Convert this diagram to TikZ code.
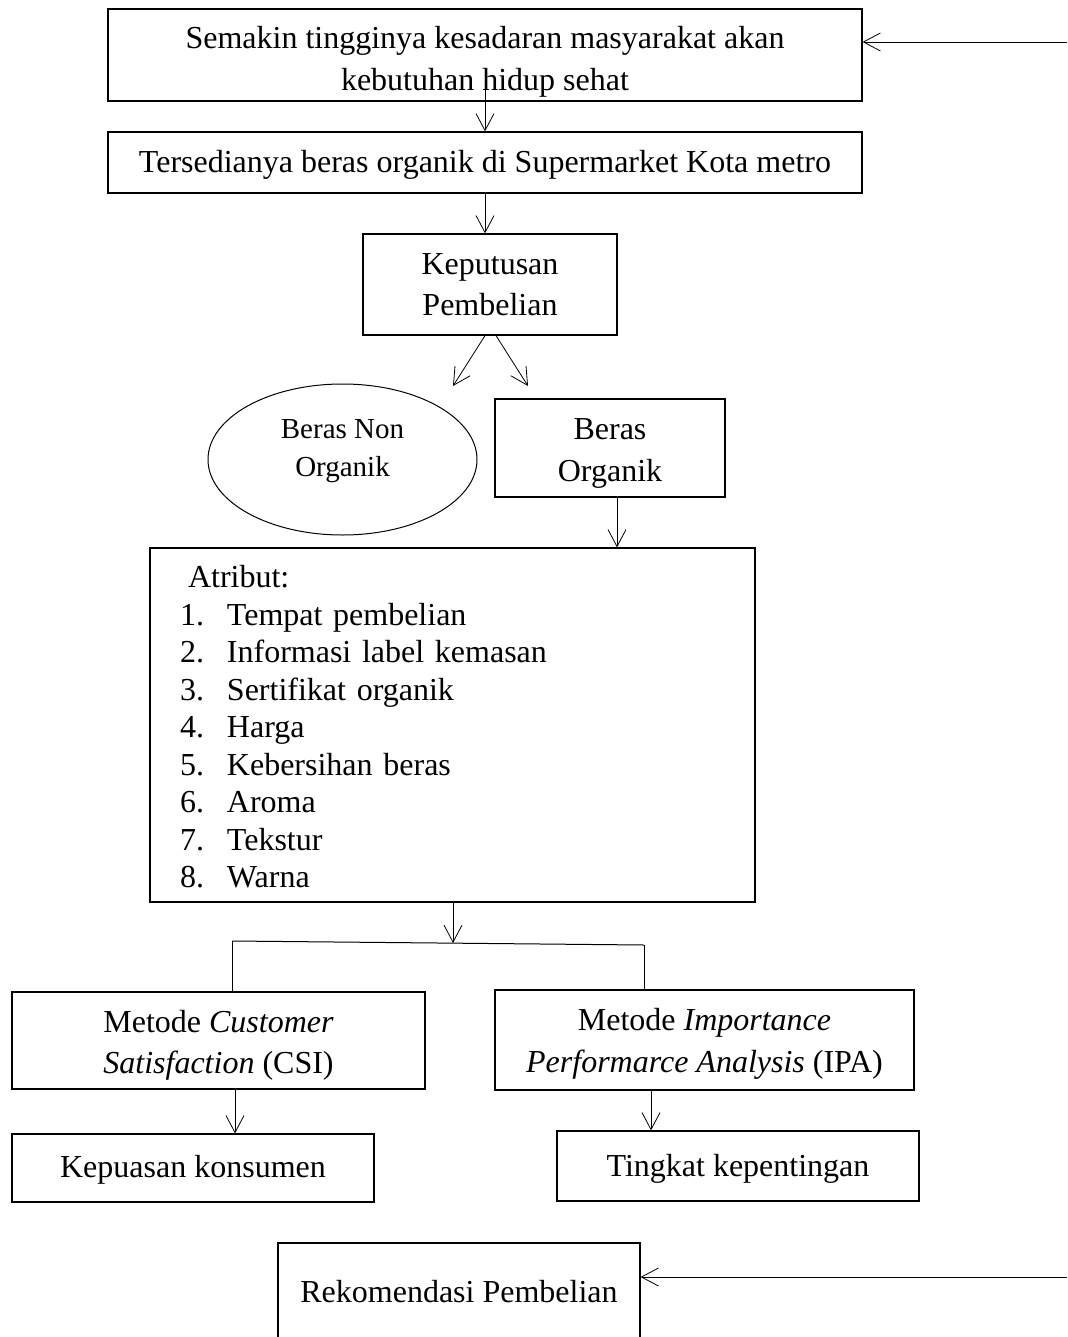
\documentclass[tikz,border=0pt]{standalone}
\usepackage{fontspec}
\setmainfont{Liberation Serif}
\usetikzlibrary{arrows.meta,shapes.geometric}
\begin{document}
\begin{tikzpicture}
[x=1pt,y=-1pt,
  boxdecorate/.style={shape=rectangle,draw,line width=1.2pt,inner sep=0pt,align=center,font=\fontsize{32}{42}\selectfont},%
  ellipsedecorate/.style={shape=ellipse,draw,line width=1pt,inner sep=0pt,align=center,font=\fontsize{29}{38}\selectfont},%
  arrowdecorate/.style={-{Straight Barb[length=17pt,width=18pt]},line width=0.8pt},%
  linedecorate/.style={-,line width=1pt}]
\useasboundingbox (0,0) rectangle (1067,1337);
% nodes or boxes
\node (aware) at (485,55) [boxdecorate,minimum width=754pt,minimum height=92pt] {\rule{0pt}{36pt}Semakin tingginya kesadaran masyarakat akan\\kebutuhan hidup sehat};
\node (avail) at (485,162.5) [boxdecorate,minimum width=754pt,minimum height=61pt] {\rule{0pt}{26pt}Tersedianya beras organik di Supermarket Kota metro};
\node (decide) at (490,284.5) [boxdecorate,minimum width=254pt,minimum height=101pt,font=\fontsize{32}{41}\selectfont] {Keputusan\\Pembelian};
\node (nonorg) at (342.5,459.5) [ellipsedecorate,minimum width=269pt,minimum height=151pt] {Beras Non\\Organik\rule[-23pt]{0pt}{0pt}};
\node (org) at (610,448) [boxdecorate,minimum width=230pt,minimum height=98pt] {\rule{0pt}{31pt}Beras\\Organik};
\node (attr) at (452.5,725) [boxdecorate,align=left,text width=545pt,inner xsep=30pt,minimum height=354pt,font=\fontsize{32}{37.5}\selectfont] {%
\hspace*{8pt}\rule{0pt}{26pt}Atribut:\\
\makebox[47pt][l]{1.}Tempat pembelian\\
\makebox[47pt][l]{2.}Informasi label kemasan\\
\makebox[47pt][l]{3.}Sertifikat organik\\
\makebox[47pt][l]{4.}Harga\\
\makebox[47pt][l]{5.}Kebersihan beras\\
\makebox[47pt][l]{6.}Aroma\\
\makebox[47pt][l]{7.}Tekstur\\
\makebox[47pt][l]{8.}Warna};
\node (csi) at (218.5,1040.5) [boxdecorate,minimum width=413pt,minimum height=97pt,font=\fontsize{32}{41}\selectfont] {\rule{0pt}{32pt}Metode \textit{Customer}\\\textit{Satisfaction} (CSI)};
\node (ipa) at (704.5,1040) [boxdecorate,minimum width=419pt,minimum height=100pt] {\rule{0pt}{30pt}Metode \textit{Importance}\\\textit{Performarce Analysis} (IPA)};
\node (satisfy) at (193,1168) [boxdecorate,minimum width=362pt,minimum height=68pt] {\rule{0pt}{26pt}Kepuasan konsumen};
\node (import) at (738,1166) [boxdecorate,minimum width=362pt,minimum height=70pt] {\rule{0pt}{28pt}Tingkat kepentingan};
\node (recom) at (459,1292) [boxdecorate,minimum width=362pt,minimum height=98pt] {Rekomendasi Pembelian};
% free ends
\coordinate (in1) at (1067,42);
\coordinate (in2) at (1067,1277);
\coordinate (tipl) at (453,386);
\coordinate (tipr) at (528,386);
\coordinate (jl) at (232,941);
\coordinate (jr) at (644,945);
\coordinate (jm) at (453,943);
\coordinate (c1) at ([xshift=7pt]org.south);
\coordinate (c2) at ([xshift=16.5pt]csi.south);
\coordinate (c3) at ([xshift=-53.5pt]ipa.south);
% edges or lines
\path
(in1) edge[arrowdecorate] (in1 -| aware.east)
([yshift=13pt]aware.south) edge[arrowdecorate] (avail.north)
(avail.south) edge[arrowdecorate] (avail.south |- decide.north)
([xshift=-5pt]decide.south) edge[arrowdecorate] (tipl)
([xshift=6pt]decide.south) edge[arrowdecorate] (tipr)
(c1) edge[arrowdecorate] (c1 |- attr.north)
(attr.south -| jm) edge[arrowdecorate] (jm)
(jl) edge[linedecorate] (jr)
(jl) edge[linedecorate] (jl |- csi.north)
(jr) edge[linedecorate] (jr |- ipa.north)
(c2) edge[arrowdecorate] (c2 |- satisfy.north)
(c3) edge[arrowdecorate] (c3 |- import.north)
(in2) edge[arrowdecorate] (in2 -| recom.east);
\end{tikzpicture}
\end{document}
